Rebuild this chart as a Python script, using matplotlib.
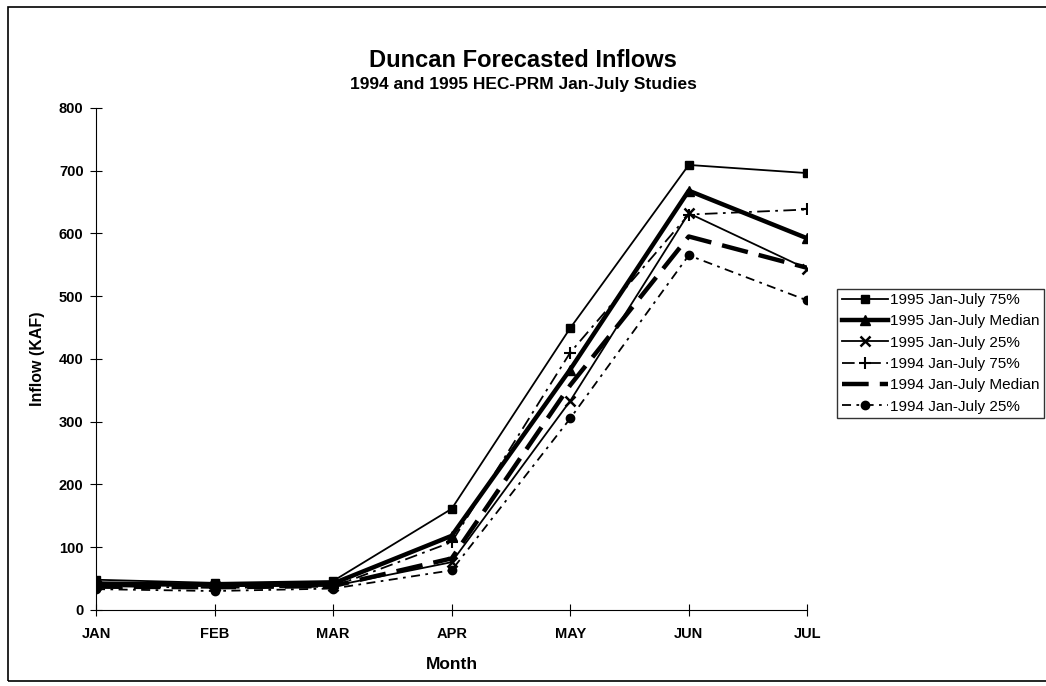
import matplotlib
matplotlib.use('Agg')
import matplotlib.pyplot as plt
import numpy as np

plt.rcParams['font.family'] = ['Liberation Sans', 'DejaVu Sans']

# Months on the x axis
months = ["JAN", "FEB", "MAR", "APR", "MAY", "JUN", "JUL"]
x = np.arange(len(months))

# Forecasted inflows (KAF)
y95_75 = [48, 43, 46, 161, 449, 709, 696]
y95_med = [42, 40, 42, 118, 383, 668, 592]
y95_25 = [40, 38, 38, 76, 333, 632, 543]
y94_75 = [38, 35, 37, 108, 410, 630, 638]
y94_med = [37, 36, 38, 82, 358, 595, 545]
y94_25 = [33, 30, 34, 63, 305, 565, 493]

fig = plt.figure(figsize=(10.46, 6.86), dpi=100)
ax = fig.add_axes([0.0918, 0.111, 0.68, 0.7318])

ax.plot(x, y95_75, color='black', lw=1.3, marker='s', ms=6, label='1995 Jan-July 75%')
ax.plot(x, y95_med, color='black', lw=3.2, marker='^', ms=7, label='1995 Jan-July Median')
ax.plot(x, y95_25, color='black', lw=1.3, marker='x', ms=7, mew=1.8, label='1995 Jan-July 25%')
ax.plot(x, y94_75, color='black', lw=1.3, marker='+', ms=9, mew=1.5,
        dashes=(7, 3, 1.5, 3), label='1994 Jan-July 75%')
ax.plot(x, y94_med, color='black', lw=3.2, dashes=(6, 2.5), label='1994 Jan-July Median')
ax.plot(x, y94_25, color='black', lw=1.3, marker='o', ms=6,
        dashes=(5, 3, 1.5, 3), label='1994 Jan-July 25%')

ax.set_xlim(0, 6)
ax.set_ylim(0, 800)
ax.set_yticks(np.arange(0, 801, 100))
ax.set_xticks(x)
ax.set_xticklabels(months)
ax.tick_params(axis='x', direction='inout', length=8, labelsize=10.5, pad=8)
ax.tick_params(axis='y', direction='inout', length=8, labelsize=10.5, pad=5)
for lab in ax.get_xticklabels() + ax.get_yticklabels():
    lab.set_fontweight('bold')
ax.spines['top'].set_visible(False)
ax.spines['right'].set_visible(False)

ax.set_xlabel('Month', fontsize=12.5, fontweight='bold', labelpad=12)
ax.set_ylabel('Inflow (KAF)', fontsize=11.5, fontweight='bold', labelpad=10)

fig.text(0.5, 0.9125, 'Duncan Forecasted Inflows', ha='center', va='center',
         fontsize=17, fontweight='bold')
fig.text(0.5, 0.877, '1994 and 1995 HEC-PRM Jan-July Studies', ha='center', va='center',
         fontsize=12.5, fontweight='bold')

leg = ax.legend(loc='upper left', bbox_to_anchor=(1.042, 0.64), fontsize=11,
                frameon=True, fancybox=False, edgecolor='black', handlelength=3.0,
                handletextpad=0.15, borderpad=0.3, labelspacing=0.48, borderaxespad=0)
leg.get_frame().set_linewidth(1.0)

# outer border
fig.patches.append(plt.Rectangle((0.008, 0.008), 0.995, 0.982, transform=fig.transFigure,
                                 fill=False, edgecolor='black', lw=1.2))

fig.savefig('out.png', dpi=100)
